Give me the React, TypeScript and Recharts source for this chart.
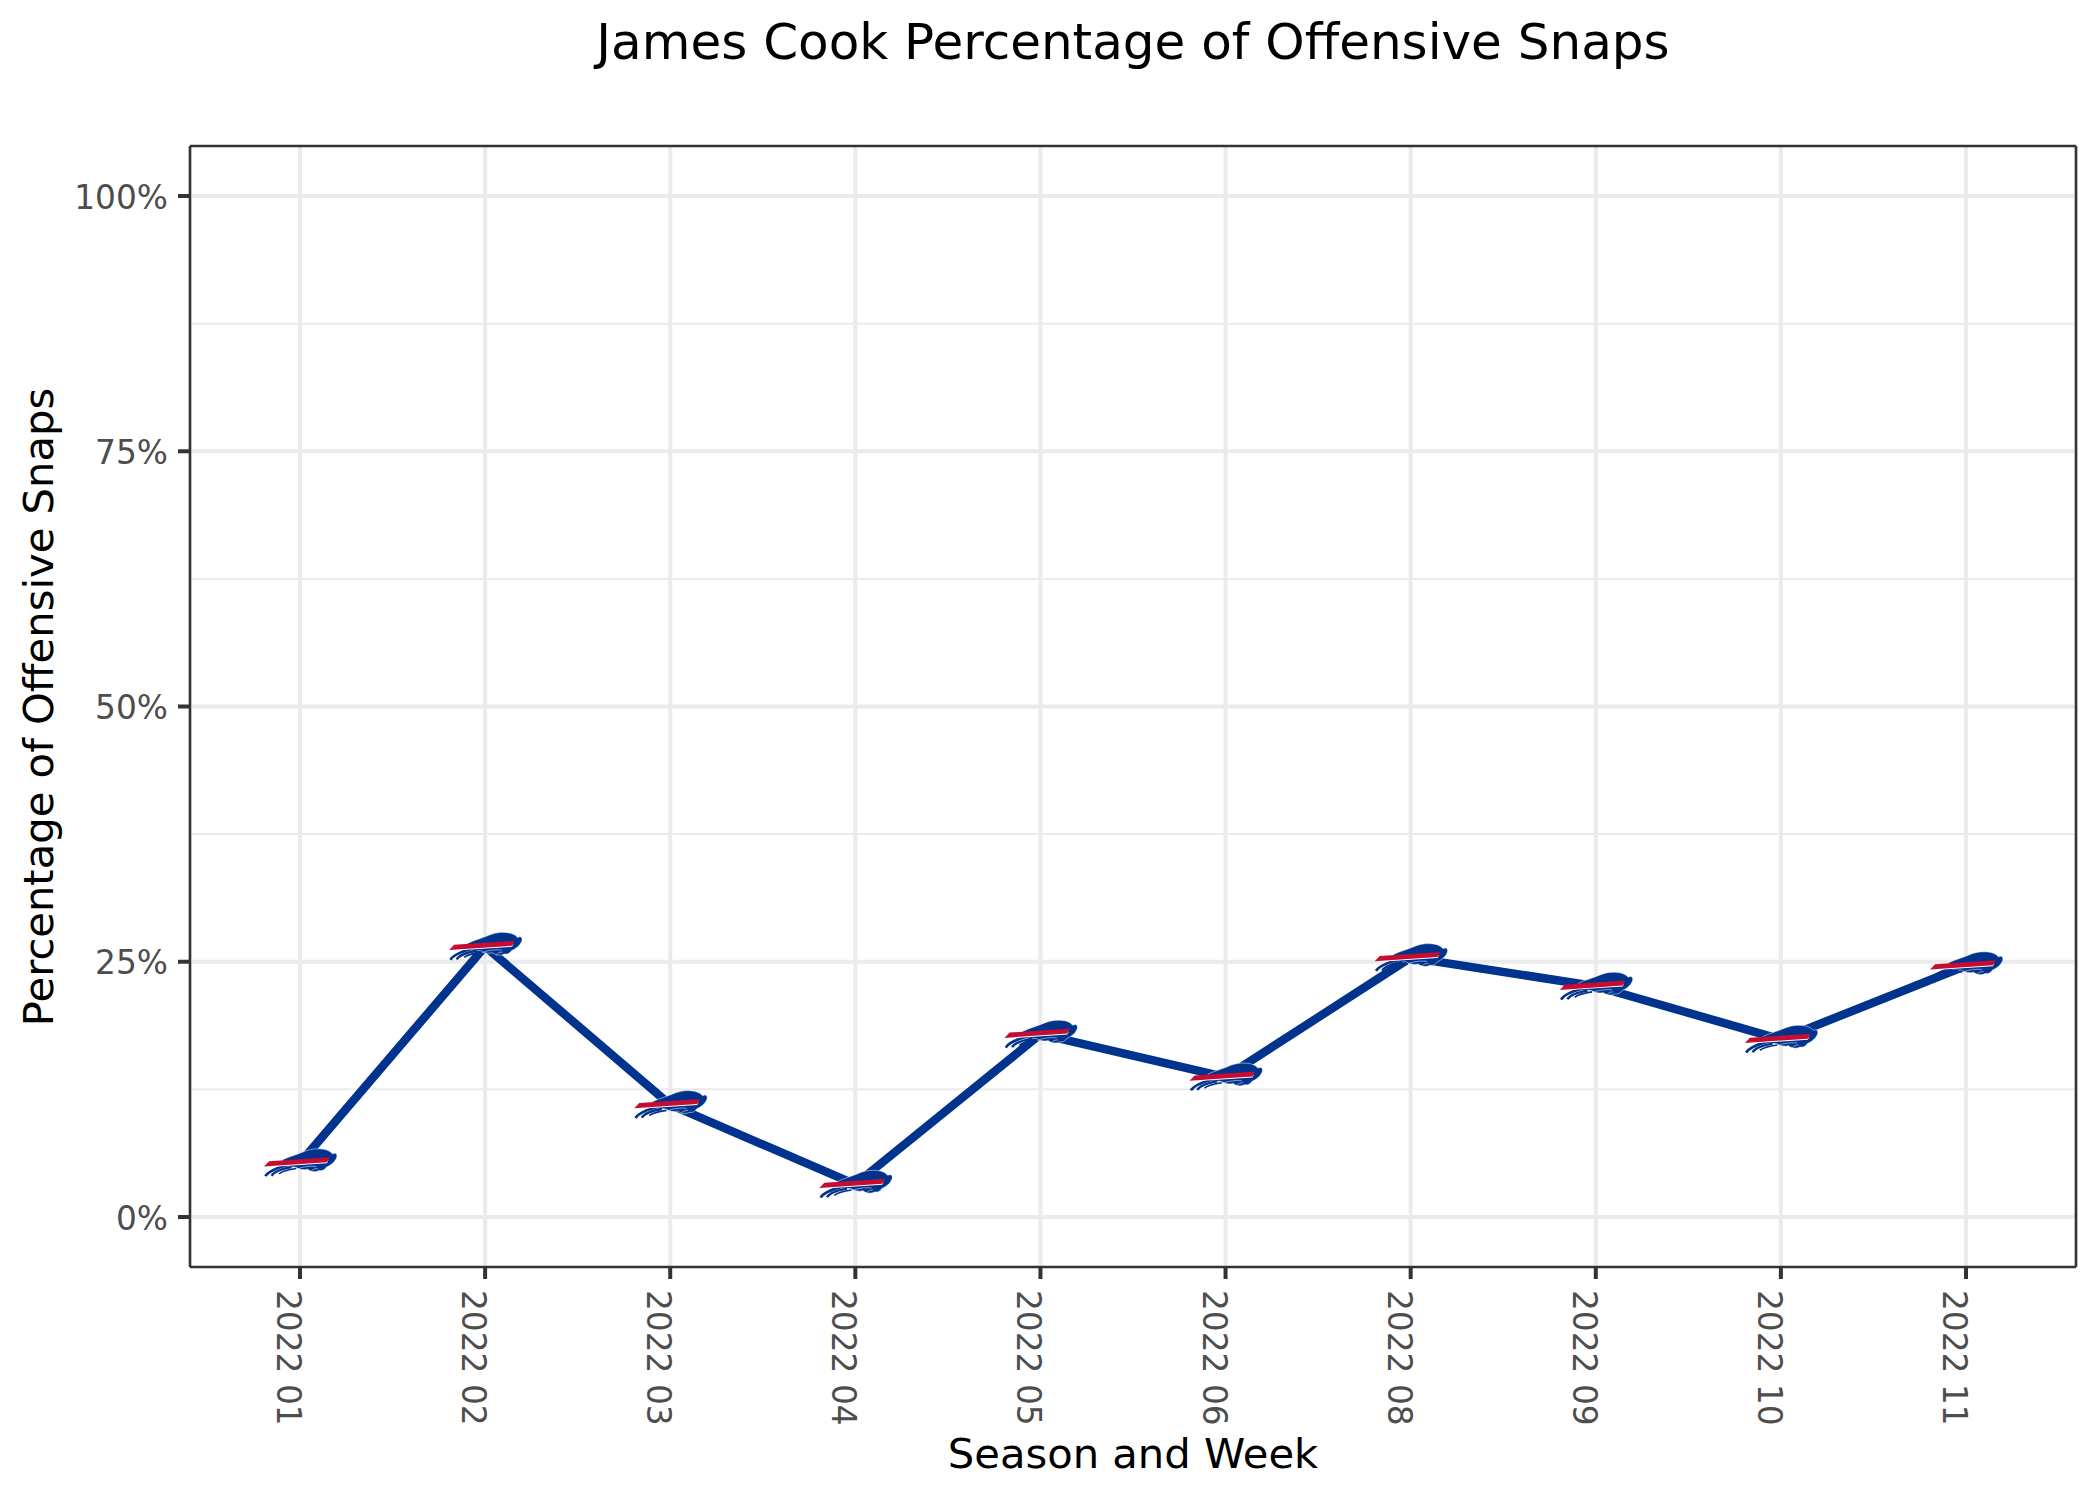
import { LineChart, Line, XAxis, YAxis, CartesianGrid } from 'recharts'

const WEEKS = ['2022 01', '2022 02', '2022 03', '2022 04', '2022 05', '2022 06', '2022 08', '2022 09', '2022 10', '2022 11']
const SNAP_PCT = [5.3, 26.5, 11.0, 3.2, 17.9, 13.7, 25.4, 22.6, 17.4, 24.6]
const MAJOR_Y = [0, 25, 50, 75, 100]
const MINOR_Y = [12.5, 37.5, 62.5, 87.5]

const BLUE = '#00338D'
const RED = '#C60C30'
const FONT = '"DejaVu Sans", sans-serif'

const data = WEEKS.map((week, i) => ({ week, pct: SNAP_PCT[i] }))

// squashed team logo, drawn in the coordinates of a 3x crop and scaled back down
function BullDot({ cx, cy, index }: any) {
  return (
    <g key={index} transform={`translate(${cx},${cy}) scale(0.3333) translate(-137,-65)`}>
      <path
        d="M84 56 C106 46 128 40 142 34 C160 26 176 22 196 23 C216 24 228 30 234 38 C246 32 251 41 246 52 C240 64 230 72 216 78 C212 85 204 90 194 88 C184 94 168 92 160 84 C146 88 134 84 124 78 L92 76 Z"
        fill={BLUE}
        stroke="#fff"
        strokeWidth={1.5}
      />
      <path d="M33 105 C40 92 60 82 98 72" fill="none" stroke={BLUE} strokeWidth={8} />
      <path d="M52 104 C58 92 78 84 112 78" fill="none" stroke={BLUE} strokeWidth={7} />
      <path d="M74 98 C84 90 98 86 126 82" fill="none" stroke={BLUE} strokeWidth={5} />
      <path d="M128 84 C144 76 170 74 186 76" fill="none" stroke="#fff" strokeWidth={1.5} />
      <path d="M170 91 C176 84 182 82 190 82" fill="none" stroke="#fff" strokeWidth={1.5} />
      <path d="M44 68 L222 57 L218 66 L36 78 Z" fill="#fff" />
      <path d="M29 76 L44 60 L226 48 L218 63 Z" fill={RED} />
    </g>
  )
}

function WeekTick({ x, payload }: any) {
  return (
    <text
      transform={`translate(${x - 23},1290) rotate(90)`}
      fontFamily={FONT}
      fontSize={32.8}
      fill="#4D4D4D"
      textAnchor="start"
    >
      {payload.value}
    </text>
  )
}

export default function App() {
  return (
    <div style={{ position: 'absolute', left: 0, top: 0, width: 2100, height: 1500, background: '#fff' }}>
      <LineChart width={2100} height={1500} data={data} margin={{ top: 145, right: 23, bottom: 0, left: 0 }}>
        <CartesianGrid vertical={false} horizontalValues={MINOR_Y} stroke="#EBEBEB" strokeWidth={2} />
        <CartesianGrid vertical={false} horizontalValues={MAJOR_Y} stroke="#EBEBEB" strokeWidth={4} />
        <CartesianGrid horizontal={false} stroke="#EBEBEB" strokeWidth={4} />
        <XAxis
          dataKey="week"
          scale="point"
          padding={{ left: 110, right: 110 }}
          height={233}
          interval={0}
          tick={<WeekTick />}
          tickSize={12}
          tickLine={{ stroke: '#333', strokeWidth: 4 }}
          axisLine={{ stroke: '#333', strokeWidth: 2.5 }}
        />
        <XAxis xAxisId="top" orientation="top" dataKey="week" height={1} tick={false} tickLine={false} axisLine={{ stroke: '#333', strokeWidth: 2.5 }} />
        <YAxis
          domain={[-4.9, 104.9]}
          ticks={MAJOR_Y}
          width={190}
          tickFormatter={(v: number) => `${v}%`}
          tick={{ fontFamily: FONT, fontSize: 32.8, fill: '#4D4D4D', dy: 1 }}
          tickSize={12}
          tickMargin={10}
          tickLine={{ stroke: '#333', strokeWidth: 4 }}
          axisLine={{ stroke: '#333', strokeWidth: 2.5 }}
        />
        <YAxis yAxisId="right" orientation="right" width={1} tick={false} tickLine={false} axisLine={{ stroke: '#333', strokeWidth: 2.5 }} />
        <Line
          dataKey="pct"
          stroke={BLUE}
          strokeWidth={8.5}
          strokeLinejoin="round"
          dot={(props: any) => <BullDot {...props} key={props.index} />}
          activeDot={false}
          isAnimationActive={false}
        />
        <text x={1133} y={59} textAnchor="middle" fontFamily={FONT} fontSize={50} fill="#000">
          James Cook Percentage of Offensive Snaps
        </text>
        <text x={1133} y={1468} textAnchor="middle" fontFamily={FONT} fontSize={41.7} fill="#000">
          Season and Week
        </text>
        <text transform="translate(53,707) rotate(-90)" textAnchor="middle" fontFamily={FONT} fontSize={41.7} fill="#000">
          Percentage of Offensive Snaps
        </text>
      </LineChart>
    </div>
  )
}
